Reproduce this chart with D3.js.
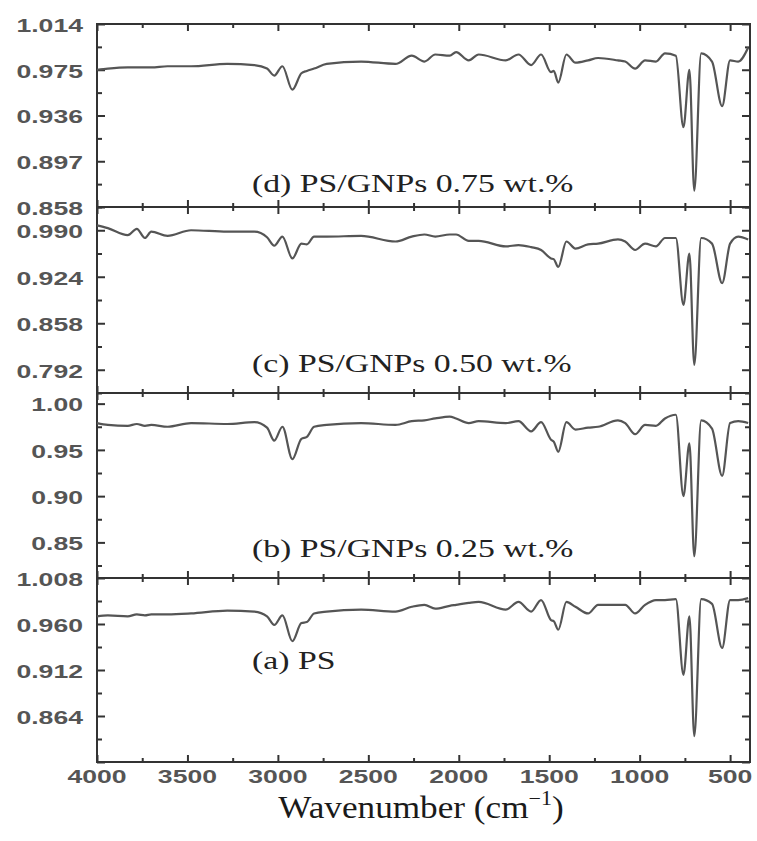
<!DOCTYPE html>
<meta charset="utf-8">
<style>
  body { margin: 0; background: #fff; }
  svg { display: block; }
  .tick-label { font: bold 19px "Liberation Sans", Arial, sans-serif; fill: #555; }
  .panel-label { font: 25px "Liberation Serif", "Times New Roman", serif; fill: #222; }
  .x-title { font: 32px "Liberation Serif", "Times New Roman", serif; fill: #1a1a1a; }
</style>
<body>
<svg width="757" height="841"></svg>
<script src="https://d3js.org/d3.v7.min.js"></script>
<script>

// wavenumber grid shared by all four spectra (cm-1)
var wavenumber = [4000, 3940, 3830, 3780, 3735, 3700, 3610, 3480, 3280, 3130, 3060, 3020, 2975, 2920, 2870, 2840, 2800, 2730,
  2540, 2350, 2260, 2190, 2130, 2050, 2015, 1945, 1890, 1740, 1670, 1600, 1545, 1490, 1475, 1450, 1405, 1355, 1285, 1230,
  1120, 1080, 1025, 970, 910, 860, 800, 758, 725, 698, 660, 600, 544, 500, 455, 400];

// (d) PS/GNPs 0.75 wt.%
var gnp075 = [0.975, 0.976, 0.977, 0.977, 0.977, 0.977, 0.978, 0.978, 0.980, 0.979, 0.976, 0.970, 0.978, 0.958, 0.972, 0.974, 0.976, 0.980,
  0.982, 0.980, 0.987, 0.982, 0.988, 0.987, 0.990, 0.983, 0.988, 0.983, 0.988, 0.979, 0.988, 0.973, 0.974, 0.964, 0.988, 0.981, 0.983, 0.985,
  0.983, 0.982, 0.976, 0.983, 0.982, 0.989, 0.987, 0.926, 0.975, 0.872, 0.989, 0.982, 0.944, 0.983, 0.982, 0.994];

// (c) PS/GNPs 0.50 wt.%
var gnp050 = [0.997, 0.993, 0.983, 0.992, 0.979, 0.988, 0.982, 0.990, 0.988, 0.988, 0.980, 0.968, 0.981, 0.950, 0.971, 0.970, 0.981, 0.981,
  0.982, 0.974, 0.981, 0.984, 0.981, 0.984, 0.984, 0.975, 0.975, 0.967, 0.969, 0.966, 0.962, 0.950, 0.949, 0.938, 0.974, 0.964, 0.970, 0.971,
  0.977, 0.974, 0.962, 0.971, 0.967, 0.979, 0.979, 0.884, 0.957, 0.799, 0.979, 0.971, 0.915, 0.971, 0.981, 0.977];

// (b) PS/GNPs 0.25 wt.%
var gnp025 = [0.979, 0.977, 0.976, 0.978, 0.976, 0.977, 0.975, 0.979, 0.978, 0.980, 0.974, 0.960, 0.975, 0.940, 0.962, 0.964, 0.975, 0.977,
  0.979, 0.977, 0.981, 0.982, 0.984, 0.986, 0.984, 0.979, 0.981, 0.979, 0.981, 0.970, 0.980, 0.961, 0.959, 0.948, 0.980, 0.972, 0.974, 0.975,
  0.982, 0.979, 0.967, 0.977, 0.976, 0.984, 0.988, 0.900, 0.957, 0.835, 0.982, 0.973, 0.922, 0.979, 0.981, 0.979];

// (a) PS
var pure = [0.968, 0.969, 0.968, 0.970, 0.969, 0.970, 0.970, 0.971, 0.974, 0.973, 0.968, 0.959, 0.969, 0.942, 0.961, 0.962, 0.971, 0.973,
  0.975, 0.973, 0.978, 0.980, 0.976, 0.979, 0.980, 0.982, 0.983, 0.975, 0.983, 0.973, 0.985, 0.964, 0.963, 0.954, 0.983, 0.978, 0.971, 0.980,
  0.980, 0.980, 0.971, 0.980, 0.985, 0.985, 0.986, 0.907, 0.968, 0.843, 0.986, 0.981, 0.935, 0.985, 0.985, 0.987];

var panelNames = ["(d) PS/GNPs 0.75 wt.%", "(c) PS/GNPs 0.50 wt.%", "(b) PS/GNPs 0.25 wt.%", "(a) PS"];
var panelSeries = [gnp075, gnp050, gnp025, pure];
var panelDomains = [[0.858, 1.014], [0.759, 1.023], [0.8115, 1.0115], [0.816, 1.008]];
var panelMajor = [[0.858, 0.897, 0.936, 0.975, 1.014], [0.792, 0.858, 0.924, 0.990], [0.85, 0.90, 0.95, 1.00], [0.816, 0.864, 0.912, 0.960, 1.008]];
var panelMinor = [[0.8775, 0.9165, 0.9555, 0.9945], [0.759, 0.825, 0.891, 0.957, 1.023], [0.825, 0.875, 0.925, 0.975], [0.840, 0.888, 0.936, 0.984]];
var panelTickText = [["1.014", "0.975", "0.936", "0.897", "0.858"], ["0.990", "0.924", "0.858", "0.792"], ["1.00", "0.95", "0.90", "0.85"], ["1.008", "0.960", "0.912", "0.864"]];
var xMajor = [4000, 3500, 3000, 2500, 2000, 1500, 1000, 500];
var xMinor = [3750, 3250, 2750, 2250, 1750, 1250, 750];

var svg = d3.select("svg");
var left = 97, right = 750;
var bounds = [24, 207, 393, 578, 762];

var x = d3.scaleLinear().domain([4000, 390]).range([left, right]);

panelSeries.forEach(function(series, i) {
  var top = bounds[i], bottom = bounds[i + 1];
  var y = d3.scaleLinear().domain(panelDomains[i]).range([bottom, top]);
  var g = svg.append("g").attr("class", "panel");

  // inward ticks, all four sides
  g.append("g").attr("transform", "translate(" + left + ",0)")
    .call(d3.axisRight(y).tickValues(panelMajor[i]).tickSize(8).tickFormat(""));
  g.append("g").attr("transform", "translate(" + left + ",0)")
    .call(d3.axisRight(y).tickValues(panelMinor[i]).tickSize(5).tickFormat(""));
  g.append("g").attr("transform", "translate(" + right + ",0)")
    .call(d3.axisLeft(y).tickValues(panelMajor[i]).tickSize(8).tickFormat(""));
  g.append("g").attr("transform", "translate(" + right + ",0)")
    .call(d3.axisLeft(y).tickValues(panelMinor[i]).tickSize(5).tickFormat(""));
  g.append("g").attr("transform", "translate(0," + top + ")")
    .call(d3.axisBottom(x).tickValues(xMajor).tickSize(7).tickFormat(""));
  g.append("g").attr("transform", "translate(0," + top + ")")
    .call(d3.axisBottom(x).tickValues(xMinor).tickSize(4).tickFormat(""));
  g.append("g").attr("transform", "translate(0," + bottom + ")")
    .call(d3.axisTop(x).tickValues(xMajor).tickSize(7).tickFormat(""));
  g.append("g").attr("transform", "translate(0," + bottom + ")")
    .call(d3.axisTop(x).tickValues(xMinor).tickSize(4).tickFormat(""));

  g.selectAll(".domain").remove();
  g.selectAll(".tick line").attr("stroke", "#333").attr("stroke-width", 2);

  g.append("rect")
    .attr("x", left).attr("y", top)
    .attr("width", right - left).attr("height", bottom - top)
    .attr("fill", "none").attr("stroke", "#333").attr("stroke-width", 2);

  var line = d3.line()
    .x(function(d, j) { return x(wavenumber[j]); })
    .y(function(d) { return y(d); })
    .curve(d3.curveMonotoneX);

  g.append("path")
    .datum(series)
    .attr("d", line)
    .attr("fill", "none")
    .attr("stroke", "#555")
    .attr("stroke-width", 2.2)
    .attr("stroke-linejoin", "round");

  // y tick labels
  g.selectAll(".ylab")
    .data(panelTickText[i])
    .enter().append("text")
    .attr("class", "tick-label")
    .attr("text-anchor", "end")
    .attr("dy", "0.36em")
    .attr("transform", function(d) { return "translate(83," + (y(+d) + 1) + ") scale(1.4,1)"; })
    .text(function(d) { return d; });

  var labelY = [183, 363, 548, 660];
  g.append("text")
    .attr("class", "panel-label")
    .attr("dy", "0.35em")
    .attr("transform", "translate(252," + labelY[i] + ") scale(1.35,1)")
    .text(panelNames[i]);
});

// x tick labels
svg.selectAll(".xlab")
  .data(xMajor)
  .enter().append("text")
  .attr("class", "tick-label")
  .attr("text-anchor", "middle")
  .attr("transform", function(d) { return "translate(" + x(d) + ",783) scale(1.4,1)"; })
  .text(function(d) { return d; });

var title = svg.append("text")
  .attr("class", "x-title")
  .attr("text-anchor", "middle")
  .attr("transform", "translate(421,818) scale(1.1,1)");
title.append("tspan").text("Wavenumber (cm");
title.append("tspan").attr("dy", -13).attr("font-size", 20).text("\u22121");
title.append("tspan").attr("dy", 13).text(")");

</script>
</body>
